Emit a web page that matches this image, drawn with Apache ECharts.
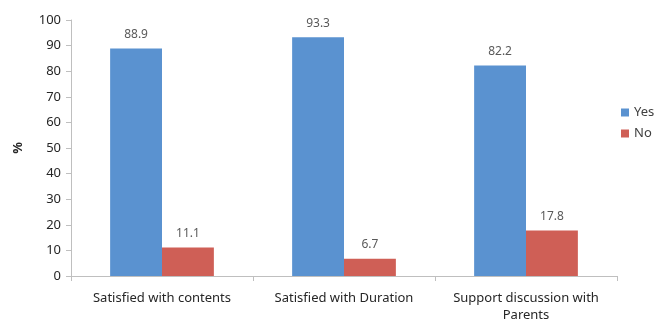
<!DOCTYPE html>
<html><head><meta charset="utf-8">
<script src="https://cdn.jsdelivr.net/npm/echarts@6/dist/echarts.min.js"></script>
<style>html,body{margin:0;padding:0;background:#fff}#c{width:662px;height:321px}</style>
</head><body><div id="c"></div>
<script>
const categories = ['Satisfied with contents', 'Satisfied with Duration', 'Support discussion with\nParents'];
const yesValues = [88.9, 93.3, 82.2];
const noValues = [11.1, 6.7, 17.8];
const yTicks = [0, 10, 20, 30, 40, 50, 60, 70, 80, 90, 100];

const font = 'Noto Sans';
const chart = echarts.init(document.getElementById('c'), null, {renderer: 'canvas'});
const lbl = {show: true, position: 'top', distance: 8, color: '#595959', fontSize: 12, fontFamily: font};
chart.setOption({
  animation: false,
  grid: {left: 71, right: 45, top: 20, bottom: 45, outerBoundsMode: 'none', containLabel: false},
  legend: {
    data: ['Yes', 'No'], orient: 'vertical', left: 616, top: 101,
    itemWidth: 8, itemHeight: 8, itemGap: 8, icon: 'rect',
    textStyle: {color: '#404040', fontSize: 13, fontFamily: font}
  },
  xAxis: {
    type: 'category', data: categories,
    axisLine: {lineStyle: {color: '#bfbfbf'}},
    axisTick: {show: true, length: 5, lineStyle: {color: '#bfbfbf'}},
    axisLabel: {color: '#262626', fontSize: 13, fontFamily: font, margin: 14, lineHeight: 17, interval: 0, hideOverlap: false}
  },
  yAxis: {
    type: 'value', min: yTicks[0], max: yTicks[yTicks.length - 1], interval: 10,
    name: '%', nameLocation: 'middle', nameGap: 46, nameRotate: 90,
    nameTextStyle: {color: '#262626', fontSize: 13, fontFamily: font, fontWeight: 'bold'},
    axisLine: {show: true, lineStyle: {color: '#bfbfbf'}},
    axisTick: {show: true, length: 5, lineStyle: {color: '#bfbfbf'}},
    splitLine: {show: false},
    axisLabel: {color: '#262626', fontSize: 13, fontFamily: font, margin: 10}
  },
  series: [
    {name: 'Yes', type: 'bar', data: yesValues, barGap: '0%', barCategoryGap: '43%',
     itemStyle: {color: '#5A92D0'}, label: lbl},
    {name: 'No', type: 'bar', data: noValues,
     itemStyle: {color: '#CF5F56'}, label: lbl}
  ]
});
</script></body></html>
